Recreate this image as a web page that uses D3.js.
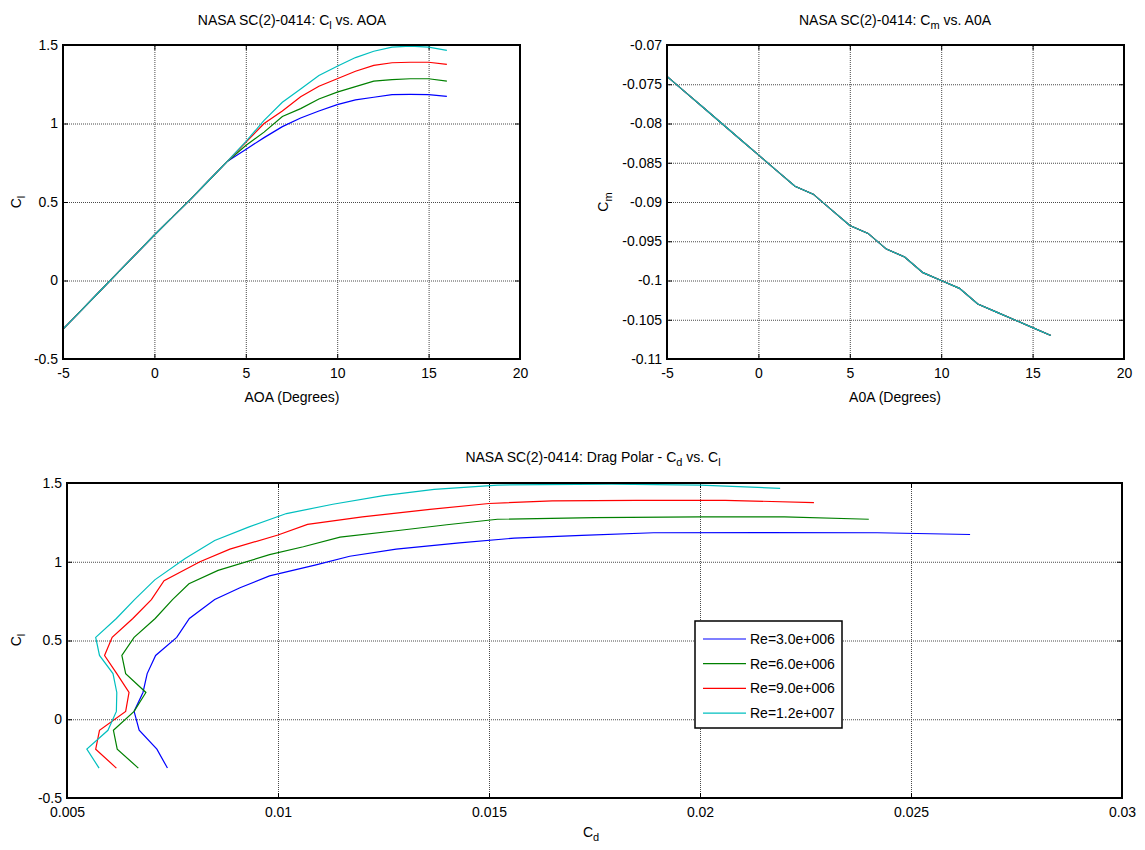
<!DOCTYPE html>
<html>
<head>
<meta charset="utf-8">
<script src="https://cdn.jsdelivr.net/npm/d3@7"></script>
<style>
  body { margin: 0; background: #fff; }
  svg { font-family: "Liberation Sans", Arial, sans-serif; }
  .grid line { stroke: #4a4a4a; stroke-width: 1; stroke-dasharray: 1,1; }
  .grid .domain { display: none; }
  .axis .domain { display: none; }
  .axis line { stroke: #000; stroke-width: 1; }
  .axis text { fill: #000; }
  .frame { fill: none; stroke: #000; stroke-width: 2; }
  .series { fill: none; stroke-width: 1.2; }
</style>
</head>
<body>
<div id="chart"></div>
<script>
const aoa = [-5, -4, -3, -2, -1, 0, 1, 2, 3, 4, 5, 6, 7, 8, 9, 10, 11, 12, 13, 14, 15, 16];

const clRe3 = [-0.31, -0.19, -0.07, 0.05, 0.17, 0.29, 0.405, 0.52, 0.64, 0.76,
  0.835, 0.91, 0.98, 1.035, 1.08, 1.12, 1.15, 1.167, 1.184, 1.185, 1.184, 1.173];
const clRe6 = [-0.31, -0.19, -0.07, 0.05, 0.17, 0.29, 0.405, 0.52, 0.64, 0.76,
  0.86, 0.945, 1.045, 1.095, 1.156, 1.2, 1.235, 1.27, 1.28, 1.285, 1.285, 1.27];
const clRe9 = [-0.31, -0.19, -0.07, 0.05, 0.17, 0.29, 0.405, 0.52, 0.64, 0.76,
  0.88, 1.0, 1.08, 1.17, 1.237, 1.285, 1.333, 1.37, 1.387, 1.39, 1.39, 1.376];
const clRe12 = [-0.31, -0.19, -0.07, 0.05, 0.17, 0.29, 0.405, 0.52, 0.64, 0.76,
  0.885, 1.02, 1.135, 1.22, 1.306, 1.365, 1.42, 1.46, 1.487, 1.493, 1.487, 1.466];

const cdRe3 = [0.00738, 0.00713, 0.00671, 0.00659, 0.0068, 0.0069, 0.0071, 0.0076, 0.0079, 0.0085,
  0.0091, 0.0098, 0.0109, 0.0117, 0.0128, 0.0143, 0.0156, 0.0172, 0.0189, 0.0215, 0.0242, 0.0264];
const cdRe6 = [0.00669, 0.00619, 0.0061, 0.00659, 0.00687, 0.00639, 0.0063, 0.00659, 0.00709, 0.0075,
  0.00789, 0.00858, 0.0098, 0.0106, 0.01147, 0.0129, 0.014, 0.0152, 0.0175, 0.02, 0.022, 0.024];
const cdRe9 = [0.00617, 0.00568, 0.00577, 0.00639, 0.00647, 0.00618, 0.00589, 0.00607, 0.00656, 0.007,
  0.0073, 0.00815, 0.00886, 0.01, 0.0107, 0.012, 0.0136, 0.015, 0.0165, 0.0185, 0.0206, 0.0227];
const cdRe12 = [0.00576, 0.00547, 0.00597, 0.00617, 0.00618, 0.00609, 0.00577, 0.00568, 0.00617, 0.0066,
  0.00708, 0.0078, 0.0085, 0.0093, 0.0102, 0.0113, 0.0125, 0.0137, 0.0152, 0.0179, 0.02, 0.0219];

const cm = [-0.074, -0.076, -0.078, -0.08, -0.082, -0.084, -0.086, -0.088, -0.089, -0.091, -0.093,
  -0.094, -0.096, -0.097, -0.099, -0.1, -0.101, -0.103, -0.104, -0.105, -0.106, -0.107];

const reLabels = ['Re=3.0e+006', 'Re=6.0e+006', 'Re=9.0e+006', 'Re=1.2e+007'];
const reColors = ['#0000ff', '#008000', '#ff0000', '#00bfbf'];

const aoaTicks = [-5, 0, 5, 10, 15, 20];
const aoaTickLabels = ['-5', '0', '5', '10', '15', '20'];
const clTicks = [-0.5, 0, 0.5, 1, 1.5];
const clTickLabels = ['-0.5', '0', '0.5', '1', '1.5'];
const cmTicks = [-0.11, -0.105, -0.1, -0.095, -0.09, -0.085, -0.08, -0.075, -0.07];
const cmTickLabels = ['-0.11', '-0.105', '-0.1', '-0.095', '-0.09', '-0.085', '-0.08', '-0.075', '-0.07'];
const cdTicks = [0.005, 0.01, 0.015, 0.02, 0.025, 0.03];
const cdTickLabels = ['0.005', '0.01', '0.015', '0.02', '0.025', '0.03'];

const clSeries = [clRe3, clRe6, clRe9, clRe12];
const cdSeries = [cdRe3, cdRe6, cdRe9, cdRe12];

const svg = d3.select('#chart').append('svg')
  .attr('width', 1145)
  .attr('height', 850);

svg.append('rect').attr('width', 1145).attr('height', 850).attr('fill', '#fff');

// text with subscripts: parts = [[text, isSub], ...]
function richText(g, x, y, parts, size, rotate) {
  const t = g.append('text')
    .attr('x', x)
    .attr('y', y)
    .attr('text-anchor', 'middle')
    .attr('font-size', size)
    .attr('fill', '#000');
  if (rotate) t.attr('transform', `rotate(-90,${x},${y})`);
  let shifted = false;
  parts.forEach(([s, sub]) => {
    const sp = t.append('tspan').text(s);
    if (sub && !shifted) { sp.attr('dy', 4).attr('font-size', size - 3); shifted = true; }
    else if (!sub && shifted) { sp.attr('dy', -4); shifted = false; }
  });
  return t;
}

function panel(box, xDomain, yDomain, xTicks, xLabels, yTicks, yLabels) {
  const x = d3.scaleLinear().domain(xDomain).range([box.left, box.right]);
  const y = d3.scaleLinear().domain(yDomain).range([box.bottom, box.top]);
  const w = box.right - box.left;
  const h = box.bottom - box.top;

  svg.append('g')
    .attr('class', 'grid')
    .attr('transform', `translate(0,${box.bottom})`)
    .call(d3.axisBottom(x).tickValues(xTicks.slice(1, -1)).tickSize(-h).tickFormat(''));

  svg.append('g')
    .attr('class', 'grid')
    .attr('transform', `translate(${box.left},0)`)
    .call(d3.axisLeft(y).tickValues(yTicks.slice(1, -1)).tickSize(-w).tickFormat(''));

  const fmtX = d => xLabels[xTicks.indexOf(d)];
  const fmtY = d => yLabels[yTicks.indexOf(d)];

  svg.append('g')
    .attr('class', 'axis')
    .attr('transform', `translate(0,${box.bottom})`)
    .call(d3.axisBottom(x).tickValues(xTicks).tickSize(-5).tickPadding(9).tickFormat(fmtX))
    .attr('font-size', 14).attr('font-family', null);

  svg.append('g')
    .attr('class', 'axis')
    .attr('transform', `translate(0,${box.top})`)
    .call(d3.axisTop(x).tickValues(xTicks).tickSize(-5).tickFormat(''));

  svg.append('g')
    .attr('class', 'axis')
    .attr('transform', `translate(${box.left},0)`)
    .call(d3.axisLeft(y).tickValues(yTicks).tickSize(-5).tickPadding(5).tickFormat(fmtY))
    .attr('font-size', 14).attr('font-family', null);

  svg.append('g')
    .attr('class', 'axis')
    .attr('transform', `translate(${box.right},0)`)
    .call(d3.axisRight(y).tickValues(yTicks).tickSize(-5).tickFormat(''));

  return { x, y };
}

function drawFrame(box) {
  svg.append('rect')
    .attr('class', 'frame')
    .attr('x', box.left)
    .attr('y', box.top)
    .attr('width', box.right - box.left)
    .attr('height', box.bottom - box.top);
}

// Cl vs AOA
const box1 = { left: 63, right: 520, top: 45, bottom: 359 };
const p1 = panel(box1, [-5, 20], [-0.5, 1.5], aoaTicks, aoaTickLabels, clTicks, clTickLabels);
clSeries.forEach((s, i) => {
  svg.append('path')
    .datum(aoa.map((a, j) => [a, s[j]]))
    .attr('class', 'series')
    .attr('stroke', reColors[i])
    .attr('d', d3.line().x(d => p1.x(d[0])).y(d => p1.y(d[1])));
});
drawFrame(box1);
richText(svg, 292, 25, [['NASA SC(2)-0414: C'], ['l', true], [' vs. AOA']], 14);
richText(svg, 292, 402, [['AOA (Degrees)']], 14);
richText(svg, 21, 202, [['C'], ['l', true]], 14, true);

// Cm vs AOA
const box2 = { left: 667, right: 1124, top: 45, bottom: 359 };
const p2 = panel(box2, [-5, 20], [-0.11, -0.07], aoaTicks, aoaTickLabels, cmTicks, cmTickLabels);
reColors.forEach(c => {
  svg.append('path')
    .datum(aoa.map((a, j) => [a, cm[j]]))
    .attr('class', 'series')
    .attr('stroke', c)
    .attr('d', d3.line().x(d => p2.x(d[0])).y(d => p2.y(d[1])));
});
drawFrame(box2);
richText(svg, 895, 25, [['NASA SC(2)-0414: C'], ['m', true], [' vs. A0A']], 14);
richText(svg, 895, 402, [['A0A (Degrees)']], 14);
richText(svg, 608, 202, [['C'], ['m', true]], 14, true);

// Drag polar
const box3 = { left: 67, right: 1122, top: 483, bottom: 798 };
const p3 = panel(box3, [0.005, 0.03], [-0.5, 1.5], cdTicks, cdTickLabels, clTicks, clTickLabels);
clSeries.forEach((s, i) => {
  svg.append('path')
    .datum(cdSeries[i].map((c, j) => [c, s[j]]))
    .attr('class', 'series')
    .attr('stroke', reColors[i])
    .attr('d', d3.line().x(d => p3.x(d[0])).y(d => p3.y(d[1])));
});
drawFrame(box3);
richText(svg, 593, 462, [['NASA SC(2)-0414: Drag Polar - C'], ['d', true], [' vs. C'], ['l', true]], 14);
richText(svg, 591, 837, [['C'], ['d', true]], 14);
richText(svg, 21, 640, [['C'], ['l', true]], 14, true);

// legend
const legend = svg.append('g');
legend.append('rect')
  .attr('x', 695).attr('y', 621)
  .attr('width', 147).attr('height', 107)
  .attr('fill', '#fff').attr('stroke', '#000').attr('stroke-width', 1.5);
reLabels.forEach((lab, i) => {
  const cy = 639 + i * 24.7;
  legend.append('line')
    .attr('x1', 703).attr('x2', 746)
    .attr('y1', cy).attr('y2', cy)
    .attr('stroke', reColors[i]).attr('stroke-width', 1.2);
  legend.append('text')
    .attr('x', 750).attr('y', cy + 5)
    .attr('font-size', 14)
    .text(lab);
});
</script>
</body>
</html>
